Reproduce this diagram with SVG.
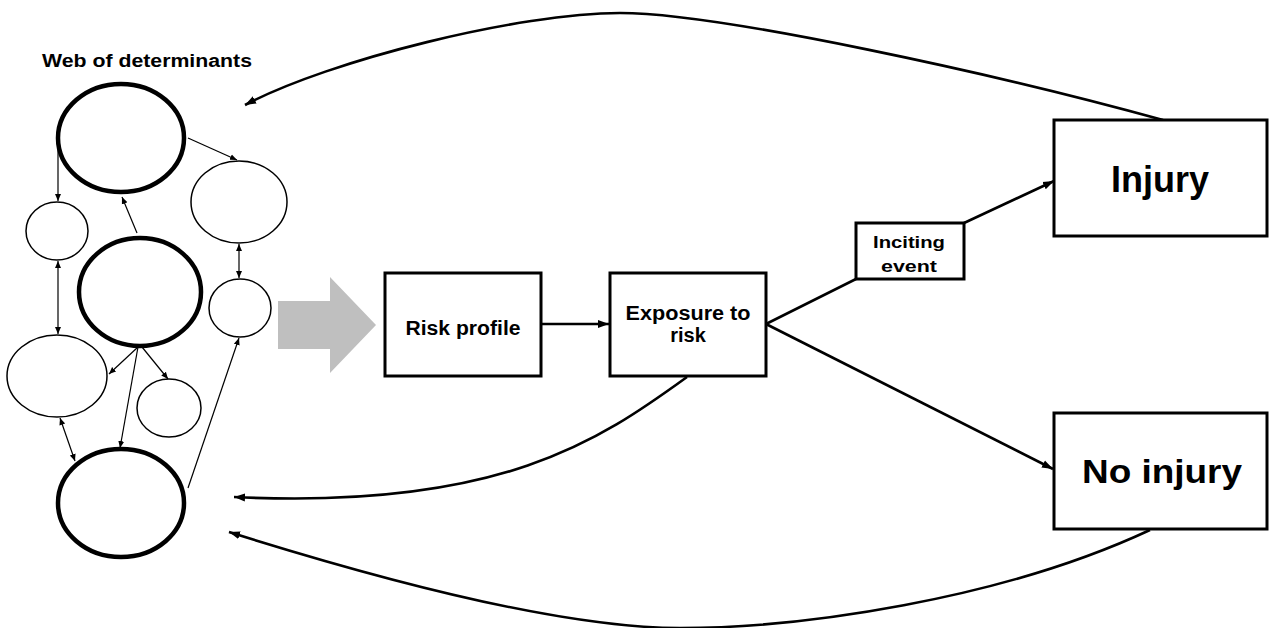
<svg xmlns="http://www.w3.org/2000/svg" width="1269" height="628" viewBox="0 0 1269 628">
<style>
.box{fill:#fff;stroke:#000;stroke-width:3}
.big{fill:#fff;stroke:#000;stroke-width:4.5}
.sm{fill:#fff;stroke:#000;stroke-width:1.5}
.thin{fill:none;stroke:#000;stroke-width:1.2}
.thick{fill:none;stroke:#000;stroke-width:2.6}
text{font-family:"Liberation Sans",Arial,sans-serif;font-weight:bold;fill:#000;text-anchor:middle}
</style>
<defs>
<marker id="ah" markerUnits="userSpaceOnUse" markerWidth="12" markerHeight="10" refX="11" refY="5" orient="auto">
<path d="M0,1 L11,5 L0,9 Z" fill="#000"/>
</marker>
<marker id="as" markerUnits="userSpaceOnUse" markerWidth="8" markerHeight="8" refX="7" refY="4" orient="auto">
<path d="M0,1 L7,4 L0,7 Z" fill="#000"/>
</marker>
<marker id="asr" markerUnits="userSpaceOnUse" markerWidth="8" markerHeight="8" refX="0" refY="4" orient="auto">
<path d="M7,1 L0,4 L7,7 Z" fill="#000"/>
</marker>
</defs>

<text x="147" y="67" font-size="18" textLength="210" lengthAdjust="spacingAndGlyphs">Web of determinants</text>

<g id="connectors">
<!-- web arrows -->
<line class="thin" x1="188" y1="138" x2="237" y2="160" marker-end="url(#as)"/>
<line class="thin" x1="58" y1="143" x2="58" y2="201" marker-end="url(#as)"/>
<line class="thin" x1="137" y1="233" x2="122" y2="197" marker-end="url(#as)"/>
<line class="thin" x1="239" y1="244" x2="239" y2="278" marker-start="url(#asr)" marker-end="url(#as)"/>
<line class="thin" x1="58" y1="261" x2="58" y2="334" marker-start="url(#asr)" marker-end="url(#as)"/>
<line class="thin" x1="138" y1="347" x2="109" y2="374" marker-end="url(#as)"/>
<line class="thin" x1="142" y1="347" x2="168" y2="379" marker-end="url(#as)"/>
<line class="thin" x1="138" y1="347" x2="120" y2="448" marker-end="url(#as)"/>
<line class="thin" x1="60" y1="418" x2="75" y2="461" marker-start="url(#asr)" marker-end="url(#as)"/>
<line class="thin" x1="188" y1="488" x2="239" y2="338" marker-end="url(#as)"/>
<!-- main flow -->
<polygon points="278,301 330,301 330,277 376,325 330,373 330,349 278,349" fill="#bfbfbf"/>
<line class="thick" x1="542" y1="324" x2="609" y2="324" marker-end="url(#ah)"/>
<line class="thick" x1="766" y1="324" x2="856" y2="279"/>
<line class="thick" x1="964" y1="223" x2="1054" y2="181" marker-end="url(#ah)"/>
<line class="thick" x1="766" y1="324" x2="1053" y2="469" marker-end="url(#ah)"/>
<!-- feedback curves -->
<path class="thick" d="M1163,120 C1000,75 720,13 620,13 C520,13 330,60 245,105" marker-end="url(#ah)"/>
<path class="thick" d="M687,377 C600,440 500,510 234,497" marker-end="url(#ah)"/>
<path class="thick" d="M1150,530 C1000,600 800,628 680,628 C550,628 350,570 229,532" marker-end="url(#ah)"/>
</g>

<g id="web-n1"><ellipse class="big" cx="121" cy="138" rx="63" ry="54"/></g>
<g id="web-n2"><ellipse class="sm" cx="57" cy="231" rx="31" ry="29"/></g>
<g id="web-n3"><ellipse class="sm" cx="239" cy="202" rx="48" ry="41"/></g>
<g id="web-n4"><ellipse class="big" cx="140" cy="292" rx="61" ry="54"/></g>
<g id="web-n5"><ellipse class="sm" cx="240" cy="308" rx="31" ry="29"/></g>
<g id="web-n6"><ellipse class="sm" cx="57" cy="376" rx="50" ry="41"/></g>
<g id="web-n7"><ellipse class="sm" cx="169" cy="408" rx="32" ry="29"/></g>
<g id="web-n8"><ellipse class="big" cx="121" cy="503" rx="63" ry="54"/></g>

<g id="risk-profile">
<rect class="box" x="385" y="273" width="156" height="103"/>
<text x="463" y="335" font-size="20" textLength="115" lengthAdjust="spacingAndGlyphs">Risk profile</text>
</g>
<g id="exposure">
<rect class="box" x="610" y="273" width="156" height="103"/>
<text x="688" y="320" font-size="20" textLength="125" lengthAdjust="spacingAndGlyphs">Exposure to</text>
<text x="688" y="342" font-size="20">risk</text>
</g>
<g id="inciting">
<rect class="box" x="856" y="223" width="108" height="56"/>
<text x="909" y="248" font-size="17" textLength="72" lengthAdjust="spacingAndGlyphs">Inciting</text>
<text x="909" y="272" font-size="17" textLength="56" lengthAdjust="spacingAndGlyphs">event</text>
</g>
<g id="injury">
<rect class="box" x="1054" y="120" width="213" height="116"/>
<text x="1160" y="192" font-size="36">Injury</text>
</g>
<g id="no-injury">
<rect class="box" x="1054" y="413" width="213" height="116"/>
<text x="1162" y="483" font-size="34" textLength="160" lengthAdjust="spacingAndGlyphs">No injury</text>
</g>
</svg>
